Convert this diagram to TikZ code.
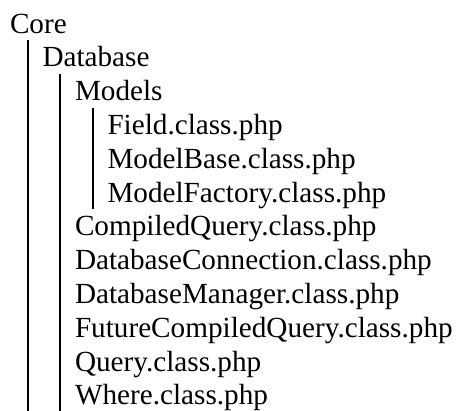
\documentclass[tikz,border=0pt]{standalone}
\usepackage{fontspec}
\setmainfont{Liberation Serif}
\usetikzlibrary{calc}
\begin{document}
\begin{tikzpicture}[x=1pt,y=1pt,
  entry/.style={anchor=base west, inner sep=0pt, outer sep=0pt,
    font=\fontsize{29.2}{33.8}\selectfont},
  guide/.style={line width=2pt}]
\useasboundingbox (0,0) rectangle (457,-410);
% tree entries: indent 32.5 per level, row pitch 33.8
\node[entry] (core)    at (10,  -33.0) {Core};
\node[entry] (db)      at (42.5,-66.8) {Database};
\node[entry] (models)  at (75,  -100.6) {Models};
\node[entry] (field)   at (107.5,-134.4) {Field.class.php};
\node[entry] (mbase)   at (107.5,-168.2) {ModelBase.class.php};
\node[entry] (mfact)   at (107.5,-202.0) {ModelFactory.class.php};
\node[entry] (cq)      at (75,  -235.8) {CompiledQuery.class.php};
\node[entry] (dconn)   at (75,  -269.6) {DatabaseConnection.class.php};
\node[entry] (dman)    at (75,  -303.4) {DatabaseManager.class.php};
\node[entry] (fcq)     at (75,  -337.2) {FutureCompiledQuery.class.php};
\node[entry] (query)   at (75,  -371.0) {Query.class.php};
\node[entry] (where)   at (75,  -404.8) {Where.class.php};
% guide lines: from below each parent down to its last child
\coordinate (coreTop)   at ($(core.base west)+(17.5,-7)$);
\coordinate (dbTop)     at ($(db.base west)+(17.5,-7)$);
\coordinate (modelsTop) at ($(models.base west)+(17.5,-7)$);
\coordinate (whereEnd)  at ($(where.base)+(0,-7)$);
\coordinate (mfactEnd)  at ($(mfact.base)+(0,-7)$);
\draw[guide] (coreTop) -- (coreTop |- whereEnd);
\draw[guide] (dbTop) -- (dbTop |- whereEnd);
\draw[guide] (modelsTop) -- (modelsTop |- mfactEnd);
\end{tikzpicture}
\end{document}
